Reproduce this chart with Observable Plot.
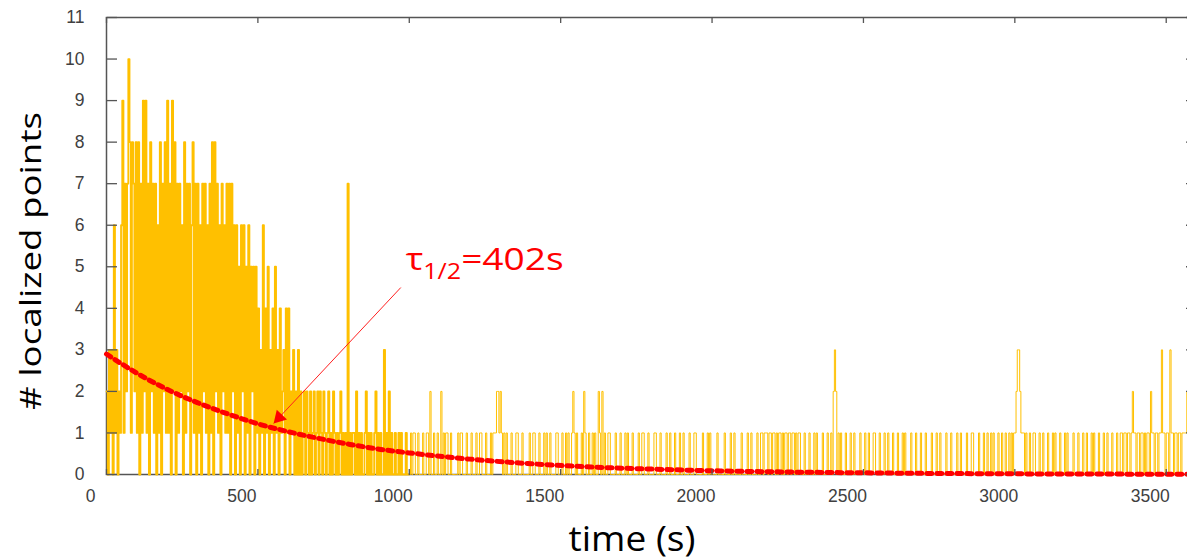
<!DOCTYPE html>
<html>
<head>
<meta charset="utf-8">
<script src="https://cdn.jsdelivr.net/npm/d3@7"></script>
<script src="https://cdn.jsdelivr.net/npm/@observablehq/plot@0.6"></script>
<style>
  html, body { margin: 0; padding: 0; background: #fff; overflow: hidden; }
  #chart svg { display: block; }
</style>
</head>
<body>
<div id="chart"></div>
<script>
// ---------- DATA ----------
// sampling step of the counts series (s)
const STEP = 4;
// counts every 4 s, 0 .. 996 s (one array per 100 s)
const counts_0000 = [2,0,3,1,3,0,6,1,3,0, 2,1,6,9,1,7,2,7,10,8, 1,8,7,2,8];
const counts_0100 = [1,8,0,7,1,9,2,9,1,7, 0,8,2,7,1,7,0,6,1,8, 0,7,2,8,1];
const counts_0200 = [9,1,7,0,9,2,8,0,7,1, 7,2,6,0,8,1,7,2,7,0, 6,8,1,7,0];
const counts_0300 = [7,1,6,0,7,2,7,1,6,0, 7,1,8,0,8,2,7,1,6,0, 7,2,6,1,7];
const counts_0400 = [1,7,0,7,2,6,0,6,1,5, 0,6,2,6,0,5,1,6,0,5, 2,5,0,5,1];
const counts_0500 = [4,0,3,1,6,0,4,1,5,0, 3,1,4,0,5,1,3,0,4,1, 2,3,0,4,1];
const counts_0600 = [4,0,2,1,3,0,2,0,3,0, 2,0,1,2,0,2,1,0,2,0, 1,2,0,1,2];
const counts_0700 = [0,2,1,0,2,1,0,1,2,0, 1,0,2,1,0,1,0,1,2,0, 1,0,1,0,7];
const counts_0800 = [0,1,0,1,1,0,2,0,1,0, 1,0,0,1,2,0,1,0,1,0, 0,1,2,0,1];
const counts_0900 = [0,1,0,0,3,0,1,0,2,0, 1,0,0,1,0,0,1,0,1,0, 0,0,1,0,0];
// after 1000 s: times (s) with 1, 2 or 3 localized points (all other samples are 0)
const tailOnes = [
  1004,1012,1016,1028,1044,1056,1060,1080,1092,
  1112,1120,1124,1136,1160,1168,1172,1188,
  1204,1220,1232,1236,1252,1268,1276,1280,1284,1296,1304,
  1312,1320,1336,1352,1356,1372,1396,
  1408,1412,1428,1444,1452,1464,1484,1488,
  1504,1516,1524,1536,1544,1552,1568,1580,1592,
  1604,1612,1628,1644,1656,1660,1680,1696,
  1712,1720,1736,1756,1768,1772,1788,
  1808,1812,1828,1848,1860,1876,1892,
  1904,1924,1940,1944,1968,1984,1992,
  2016,2040,2060,2072,2096,2116,2128,2148,
  2160,2164,2172,2176,2180,2188,2192,2200,2204,2212,2220,2224,2232,2240,2244,2252,2256,2264,2268,2276,2284,2288,
  2304,2320,2336,2344,2364,2380,2392,
  2416,2424,2440,2456,2468,2488,
  2504,2516,2532,2536,2552,2568,2580,2596,
  2612,2628,2636,2656,2672,2688,
  2704,2724,2740,2752,2772,2788,
  2808,2820,2840,2856,2860,2880,2896,
  2908,2920,2928,2944,2956,2968,2980,2988,2996,
  3000,3020,3024,3028,3036,3048,3060,3064,3080,3092,
  3108,3124,3132,3148,3164,3172,3192,
  3208,3224,3236,3252,3260,3276,3292,
  3304,3320,3336,3348,3352,
  3360,3364,3372,3376,3384,3392,3396,3404,3408,3416,3420,3428,3436,3440,3452,3456,3464,3468,3476,3480,3488,3492,
  3500,3504,3516,3520,3528,3532,3540,3544,3552,3556,3560,3564,3572,3576,3580,3588,3592];
const tailTwos = [1068,1104,1288,1292,1300,1540,1576,1624,1636,2400,2408,3004,3016,3388,3448,3568];
const tailThrees = [2404,3008,3012,3484,3512];

// exponential fit (red dotted curve)
const fitTime  = [0,100,200,300,400,500,600,700,800,900,1000,1200,1400,1600,1800,2000,2250,2500,2750,3000,3250,3500,3600];
const fitValue = [2.90,2.44,2.05,1.73,1.46,1.22,1.03,0.87,0.73,0.61,0.52,0.37,0.26,0.18,0.13,0.09,0.06,0.04,0.025,0.016,0.011,0.007,0.006];

// annotation
const annoParts = ["τ", "1/2", "=402s"];
const annoPos = {t: 988, y: 5.16};
const arrowFrom = {t: 972, y: 4.5};
const arrowTo = {t: 552, y: 1.23};

// axes
const xDomain = [0, 3600];
const yDomain = [0, 11];
const xTicks = [0, 500, 1000, 1500, 2000, 2500, 3000, 3500];
const yTicks = [0, 1, 2, 3, 4, 5, 6, 7, 8, 9, 10, 11];
const xTitle = "time (s)";
const yTitle = "# localized points";

// ---------- BUILD ----------
const dense = [].concat(counts_0000, counts_0100, counts_0200, counts_0300, counts_0400,
                        counts_0500, counts_0600, counts_0700, counts_0800, counts_0900);
const ones = new Set(tailOnes), twos = new Set(tailTwos), threes = new Set(tailThrees);
const series = [];
for (let i = 0; i * STEP < xDomain[1]; i++) {
  const t = i * STEP;
  const v = i < dense.length ? dense[i] : threes.has(t) ? 3 : twos.has(t) ? 2 : ones.has(t) ? 1 : 0;
  series.push({t, v});
}
const denseEnd = dense.length * STEP;
const fit = fitTime.map((t, i) => ({t, y: fitValue[i]}));
const annoLabel = annoParts.join("");

const axisColor = "#555555";
const labelColor = "#404040";
const gold = "#FFC000";
const red = "#FF0000";

const plot = Plot.plot({
  width: 1187,
  height: 560,
  marginLeft: 106,
  marginRight: -9,
  marginTop: 17,
  marginBottom: 86,
  style: {background: "white"},
  x: {domain: xDomain},
  y: {domain: yDomain},
  marks: [
    Plot.frame({stroke: axisColor, strokeWidth: 1.5}),
    Plot.line(series, {filter: d => d.t <= denseEnd, x: "t", y: "v", stroke: gold, strokeWidth: 1.8, curve: "step-after"}),
    Plot.line(series, {filter: d => d.t >= denseEnd, x: "t", y: "v", stroke: gold, strokeWidth: 1, curve: "step-after"}),
    Plot.line(fit, {x: "t", y: "y", stroke: red, strokeWidth: 5, strokeDasharray: "5,5", curve: "monotone-x"}),
    // inward ticks on all four sides
    Plot.axisY(yTicks, {anchor: "right", frameAnchor: "left", tickSize: 10, fill: "none", stroke: axisColor, strokeWidth: 1.3, label: null}),
    Plot.axisY(yTicks, {anchor: "left", frameAnchor: "right", tickSize: 10, fill: "none", stroke: axisColor, strokeWidth: 1.3, label: null}),
    Plot.axisX(xTicks, {anchor: "bottom", frameAnchor: "top", tickSize: 6, fill: "none", stroke: axisColor, strokeWidth: 1.3, label: null}),
    Plot.axisX(xTicks, {anchor: "top", frameAnchor: "bottom", tickSize: 6, fill: "none", stroke: axisColor, strokeWidth: 1.3, label: null}),
    // tick labels
    Plot.axisY(yTicks, {anchor: "left", tickSize: 0, tickPadding: 22, fontSize: 17.5, fontFamily: "Liberation Sans, Arial, sans-serif", fill: labelColor, label: null}),
    Plot.axisX(xTicks, {anchor: "bottom", tickSize: 0, tickPadding: 15, dx: -16, tickFormat: d => String(d), fontSize: 17.5, fontFamily: "Liberation Sans, Arial, sans-serif", fill: labelColor, label: null}),
    // axis titles
    Plot.text([yTitle], {frameAnchor: "left", rotate: -90, textAnchor: "start", dx: -75, dy: 164, fontSize: 30, fontFamily: "Open Sans, sans-serif", fill: "#000", lineAnchor: "middle"}),
    Plot.text([xTitle], {frameAnchor: "bottom", textAnchor: "start", dx: -83, dy: 66, fontSize: 34, fontFamily: "Open Sans, sans-serif", fill: "#000", lineAnchor: "middle"}),
    // annotation: arrow with filled head, then label
    Plot.link([{from: arrowFrom, to: arrowTo}], {x1: d => d.from.t, y1: d => d.from.y, x2: d => d.to.t, y2: d => d.to.y, stroke: "#FF2020", strokeWidth: 1}),
    Plot.dot([arrowTo], {x: "t", y: "y", symbol: "triangle", r: 5.2, rotate: 223, dx: 5.5, dy: -5.8, fill: red, stroke: "none"}),
    Plot.text([annoPos], {x: "t", y: "y", text: () => annoLabel, textAnchor: "start", lineAnchor: "middle", fill: red, fontSize: 31, fontFamily: "Open Sans, sans-serif"})
  ]
});
document.getElementById("chart").appendChild(plot);

// post-processing of text: stretched titles (as in the picture) and subscript in the annotation
const NS = "http://www.w3.org/2000/svg";
for (const el of plot.querySelectorAll("text")) {
  const s = el.textContent;
  if (s === yTitle) { el.setAttribute("textLength", 298); el.setAttribute("lengthAdjust", "spacingAndGlyphs"); }
  if (s === xTitle) { el.setAttribute("textLength", 127); el.setAttribute("lengthAdjust", "spacingAndGlyphs"); }
  if (s === annoLabel) {
    el.textContent = "";
    const a = document.createElementNS(NS, "tspan"); a.textContent = annoParts[0];
    const b = document.createElementNS(NS, "tspan"); b.textContent = annoParts[1];
    b.setAttribute("font-size", 21); b.setAttribute("dy", 9);
    const c = document.createElementNS(NS, "tspan"); c.textContent = annoParts[2];
    c.setAttribute("dy", -9);
    el.append(a, b, c);
    el.setAttribute("textLength", 158); el.setAttribute("lengthAdjust", "spacingAndGlyphs");
  }
}
</script>
</body>
</html>
